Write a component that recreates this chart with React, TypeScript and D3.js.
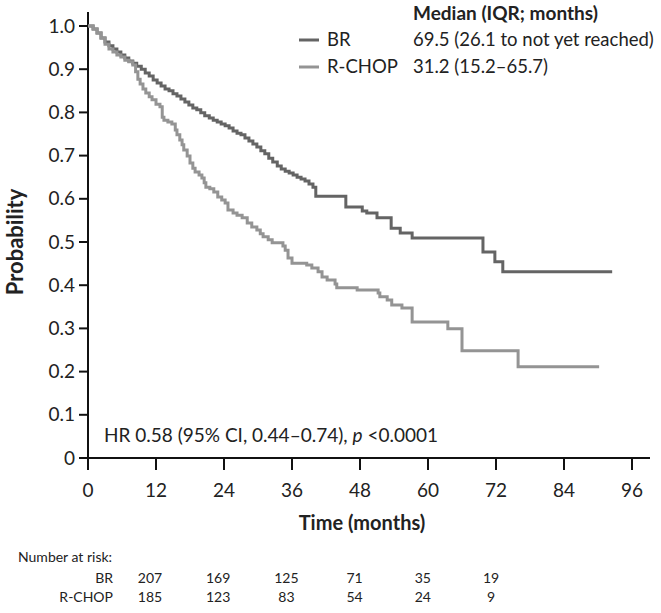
import React from 'react';
import * as d3 from 'd3';

// Kaplan-Meier steps: time (months) where the curve drops, value after the drop
const brTime = [0, 0.9, 1.6, 2.3, 3.0, 3.7, 4.4, 5.1, 5.8, 6.5, 7.2, 7.9, 8.6, 9.4, 10.1, 10.8, 11.5, 12.2, 12.9, 13.6, 14.3, 15.0, 15.7, 16.4, 17.1, 17.8, 18.5, 19.2, 19.9, 20.6, 21.4, 22.1, 22.8, 23.5, 24.2, 24.9, 25.6, 26.3, 27.0, 27.7, 28.4, 29.1, 29.8, 30.5, 31.2, 31.9, 32.6, 33.4, 34.1, 34.8, 35.5, 36.2, 36.9, 37.6, 38.3, 39.0, 39.7, 40.2, 45.5, 48.4, 49.2, 51.0, 53.5, 55.1, 57.2, 69.7, 71.8, 73.2, 92.5];
const brSurv = [1.0, 0.993, 0.984, 0.972, 0.963, 0.954, 0.947, 0.94, 0.933, 0.926, 0.919, 0.914, 0.907, 0.9, 0.891, 0.884, 0.875, 0.868, 0.861, 0.854, 0.85, 0.843, 0.838, 0.831, 0.824, 0.817, 0.81, 0.806, 0.799, 0.792, 0.787, 0.782, 0.778, 0.773, 0.769, 0.764, 0.757, 0.752, 0.748, 0.741, 0.734, 0.727, 0.72, 0.711, 0.704, 0.694, 0.685, 0.676, 0.669, 0.664, 0.66, 0.655, 0.65, 0.646, 0.641, 0.634, 0.627, 0.606, 0.581, 0.572, 0.567, 0.556, 0.532, 0.521, 0.509, 0.477, 0.454, 0.431, 0.431];

const rchopTime = [0, 0.9, 1.6, 2.3, 3.0, 3.7, 4.4, 5.1, 5.8, 6.5, 7.2, 7.9, 8.4, 8.8, 9.2, 9.7, 10.2, 10.8, 11.3, 12.0, 12.7, 13.1, 13.4, 14.1, 14.8, 15.4, 15.7, 16.2, 16.6, 16.9, 17.5, 18.0, 18.5, 18.9, 19.6, 20.1, 20.5, 20.8, 21.5, 22.2, 22.9, 23.6, 24.2, 24.7, 25.6, 26.3, 27.2, 28.1, 28.9, 29.8, 30.4, 30.9, 31.8, 32.5, 34.4, 34.8, 35.3, 36.0, 38.6, 39.5, 40.6, 41.3, 42.2, 43.6, 43.9, 47.5, 51.2, 51.5, 52.8, 53.6, 55.4, 57.2, 63.5, 66.0, 75.9, 90.2];
const rchopSurv = [1.0, 0.993, 0.984, 0.972, 0.958, 0.947, 0.94, 0.933, 0.928, 0.921, 0.917, 0.91, 0.894, 0.877, 0.866, 0.854, 0.845, 0.836, 0.829, 0.819, 0.813, 0.789, 0.782, 0.778, 0.773, 0.759, 0.748, 0.736, 0.725, 0.713, 0.699, 0.683, 0.671, 0.662, 0.655, 0.648, 0.637, 0.627, 0.623, 0.616, 0.604, 0.597, 0.59, 0.574, 0.567, 0.562, 0.556, 0.544, 0.535, 0.528, 0.519, 0.512, 0.505, 0.498, 0.491, 0.481, 0.463, 0.451, 0.447, 0.44, 0.431, 0.419, 0.412, 0.403, 0.394, 0.389, 0.382, 0.373, 0.366, 0.354, 0.347, 0.315, 0.299, 0.248, 0.211, 0.211];

const xTicks = [0, 12, 24, 36, 48, 60, 72, 84, 96];
const yTicks = [0, 0.1, 0.2, 0.3, 0.4, 0.5, 0.6, 0.7, 0.8, 0.9, 1.0];

const groups = ['BR', 'R-CHOP'];
const medians = ['69.5 (26.1 to not yet reached)', '31.2 (15.2\u201365.7)'];
const colors = ['#646464', '#949494'];

const riskBR = [207, 169, 125, 71, 35, 19];
const riskRCHOP = [185, 123, 83, 54, 24, 9];

const FONT = 'Lato, "Open Sans", sans-serif';

export default function App() {
  const x = d3.scaleLinear().domain([0, 96]).range([88, 632]);
  const y = d3.scaleLinear().domain([0, 1]).range([458, 26]);
  const riskX = d3.scaleLinear().domain([0, 5]).range([150, 491]);

  const line = d3
    .line<[number, number]>()
    .x((d) => x(d[0]))
    .y((d) => y(d[1]))
    .curve(d3.curveStepAfter);

  const series = [
    d3.zip(brTime, brSurv) as [number, number][],
    d3.zip(rchopTime, rchopSurv) as [number, number][],
  ];

  const text = { fontFamily: FONT, fill: '#222' } as const;

  return (
    <svg
      width={661}
      height={613}
      style={{ position: 'absolute', top: 0, left: 0, background: '#fff' }}
    >
      {/* axes */}
      <line x1={x(0)} x2={x(0)} y1={12} y2={y(0) + 12} stroke="#111" strokeWidth={2} />
      <line x1={x(0) - 9} x2={650} y1={y(0)} y2={y(0)} stroke="#111" strokeWidth={2} />
      {yTicks.map((t) => (
        <g key={'y' + t}>
          <line x1={x(0) - 9} x2={x(0)} y1={y(t)} y2={y(t)} stroke="#111" strokeWidth={2} />
          <text x={75} y={y(t)} dy="0.35em" textAnchor="end" fontSize={19} {...text}>
            {t === 0 ? '0' : t.toFixed(1)}
          </text>
        </g>
      ))}
      {xTicks.map((t) => (
        <g key={'x' + t}>
          <line x1={x(t)} x2={x(t)} y1={y(0)} y2={y(0) + 12} stroke="#111" strokeWidth={2} />
          <text x={x(t)} y={490} dy="0.35em" textAnchor="middle" fontSize={19} {...text}>
            {t}
          </text>
        </g>
      ))}

      {/* curves */}
      {series.map((s, i) => (
        <path key={groups[i]} d={line(s) || ''} fill="none" stroke={colors[i]} strokeWidth={3} />
      ))}

      {/* axis titles */}
      <text
        transform={`translate(15,${y(0.5)}) rotate(-90)`}
        dy="0.35em"
        textAnchor="middle"
        fontSize={22}
        fontWeight="bold"
        {...text}
      >
        Probability
      </text>
      <text x={362} y={523} dy="0.35em" textAnchor="middle" fontSize={20} fontWeight="bold" {...text}>
        Time (months)
      </text>

      {/* legend */}
      <text x={413} y={13} dy="0.35em" fontSize={19} fontWeight="bold" {...text}>
        Median (IQR; months)
      </text>
      {groups.map((g, i) => (
        <g key={'lg' + g}>
          <line x1={299} x2={319} y1={40 + i * 27} y2={40 + i * 27} stroke={colors[i]} strokeWidth={3} />
          <text x={327} y={40 + i * 27} dy="0.35em" fontSize={18.5} {...text}>
            {g}
          </text>
          <text x={413} y={40 + i * 27} dy="0.35em" fontSize={18.5} {...text}>
            {medians[i]}
          </text>
        </g>
      ))}

      {/* hazard ratio */}
      <text x={104} y={435} dy="0.35em" fontSize={19} {...text}>
        HR 0.58 (95% CI, 0.44{'\u2013'}0.74), <tspan fontStyle="italic">p</tspan> {'<'}0.0001
      </text>

      {/* number at risk */}
      <text x={18} y={557} dy="0.35em" fontSize={14} {...text}>
        Number at risk:
      </text>
      {[riskBR, riskRCHOP].map((row, i) => (
        <g key={'risk' + i}>
          <text x={113} y={578 + i * 19} dy="0.35em" textAnchor="end" fontSize={14} {...text}>
            {groups[i]}
          </text>
          {row.map((n, j) => (
            <text key={j} x={riskX(j)} y={578 + i * 19} dy="0.35em" textAnchor="middle" fontSize={14} {...text}>
              {n}
            </text>
          ))}
        </g>
      ))}
    </svg>
  );
}
